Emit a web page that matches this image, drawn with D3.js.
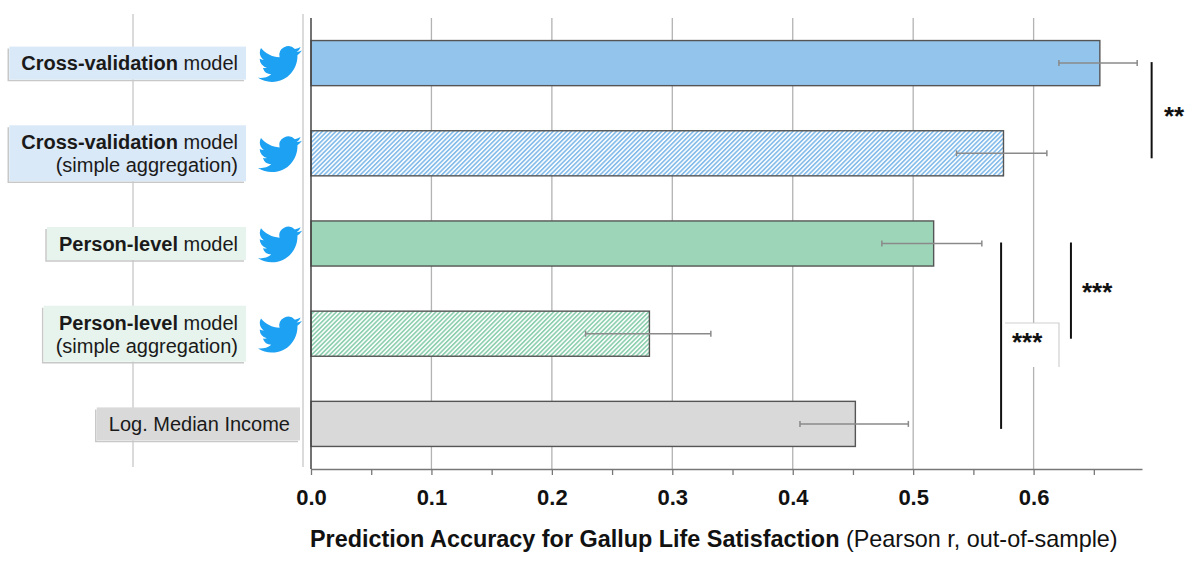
<!DOCTYPE html>
<html>
<head>
<meta charset="utf-8">
<script src="https://cdn.jsdelivr.net/npm/d3@7"></script>
<style>
  html, body { margin: 0; padding: 0; background: #fff; }
  svg { display: block; font-family: "Liberation Sans", Arial, Helvetica, sans-serif; }
</style>
</head>
<body>
<svg id="chart" width="1200" height="567"></svg>
<script>
// valores
const labelBold = ["Cross-validation", "Cross-validation", "Person-level", "Person-level", ""];
const labelRest = [" model", " model", " model", " model", "Log. Median Income"];
const labelSecond = ["", "(simple aggregation)", "", "(simple aggregation)", ""];
const groups = ["blue", "blue", "green", "green", "gray"];
const hatched = [false, true, false, true, false];
const twitter = [true, true, true, true, false];

const values = [0.655, 0.575, 0.517, 0.281, 0.452];
const errLow = [0.621, 0.536, 0.474, 0.228, 0.406];
const errHigh = [0.686, 0.611, 0.557, 0.332, 0.496];

const tickValues = [0, 0.05, 0.1, 0.15, 0.2, 0.25, 0.3, 0.35, 0.4, 0.45, 0.5, 0.55, 0.6, 0.65];
const gridValues = [0.1, 0.2, 0.3, 0.4, 0.5, 0.6];

// comparações de significância (índices das barras)
const sigFrom = [0, 2, 2];
const sigTo = [1, 3, 4];
const sigLabels = ["**", "***", "***"];
const sigX = [0.698, 0.631, 0.573];

const fills = { blue: "#93c4ec", green: "#9dd5b8", gray: "#d9d9d9" };
const hatchColors = { blue: "#86bdea", green: "#8ed0b0" };
const boxFills = { blue: "#dae9f7", green: "#e7f4ed", gray: "#d9d9d9" };

const svg = d3.select("#chart");
const plotTop = 18, plotBottom = 469;

const x = d3.scaleLinear().domain([0, 0.69]).range([311, 1142]);
const y = d3.scaleBand().domain(d3.range(values.length)).range([plotTop, plotBottom])
  .paddingInner(0.5).paddingOuter(0.25);
const bw = y.bandwidth();

// padrões de hachura
const defs = svg.append("defs");
const hs = 3.2;
Object.keys(hatchColors).forEach((k) => {
  const p = defs.append("pattern")
    .attr("id", "hatch-" + k)
    .attr("patternUnits", "userSpaceOnUse")
    .attr("width", hs).attr("height", hs)
    .attr("patternTransform", "rotate(45)");
  p.append("rect").attr("width", hs).attr("height", hs).attr("fill", "#fff");
  p.append("rect").attr("x", 0).attr("y", 0).attr("width", 1.7).attr("height", hs)
    .attr("fill", hatchColors[k]);
});

// linhas cinzas de fundo (conectores)
[133, 303].forEach((lx) => {
  svg.append("line").attr("x1", lx).attr("x2", lx).attr("y1", 14).attr("y2", 467)
    .attr("stroke", "#cfcfcf").attr("stroke-width", 1.5);
});

// grade
svg.append("g").selectAll("line").data(gridValues).enter().append("line")
  .attr("x1", (d) => x(d)).attr("x2", (d) => x(d))
  .attr("y1", plotTop).attr("y2", plotBottom)
  .attr("stroke", "#b3b3b3").attr("stroke-width", 1.3);

// caixa branca atrás do "***"
svg.append("rect").attr("x", 1005).attr("y", 323).attr("width", 54).attr("height", 44)
  .attr("fill", "#fff");
svg.append("path").attr("d", "M1005,323H1059V367")
  .attr("fill", "none").attr("stroke", "#d0d0d0").attr("stroke-width", 1.2);

// barras
svg.append("g").selectAll("rect").data(values).enter().append("rect")
  .attr("x", x(0))
  .attr("y", (d, i) => y(i))
  .attr("width", (d) => x(d) - x(0))
  .attr("height", bw)
  .attr("fill", (d, i) => hatched[i] ? `url(#hatch-${groups[i]})` : fills[groups[i]])
  .attr("stroke", "#555")
  .attr("stroke-width", 1.4);

// barras de erro
const err = svg.append("g").attr("stroke", "#8a8a8a").attr("stroke-width", 1.5);
values.forEach((v, i) => {
  const cy = y(i) + bw / 2;
  err.append("line").attr("x1", x(errLow[i])).attr("x2", x(errHigh[i])).attr("y1", cy).attr("y2", cy);
  [errLow[i], errHigh[i]].forEach((e) => {
    err.append("line").attr("x1", x(e)).attr("x2", x(e)).attr("y1", cy - 3).attr("y2", cy + 3);
  });
});

// eixo x
const axis = d3.axisBottom(x)
  .tickValues(tickValues)
  .tickSize(6)
  .tickSizeOuter(0)
  .tickPadding(14)
  .tickFormat((d) => (Math.round(d * 100) % 10 === 0 ? d3.format(".1f")(d) : ""));

const gx = svg.append("g").attr("transform", `translate(0,${plotBottom})`).call(axis);
gx.select(".domain").attr("stroke", "#777").attr("stroke-width", 1.3);
gx.selectAll(".tick line").attr("stroke", "#777").attr("stroke-width", 1.3);
gx.selectAll(".tick text").attr("font-size", 22).attr("font-weight", "bold")
  .attr("fill", "#111").attr("font-family", "'Liberation Sans', Arial, sans-serif");

// eixo vertical à esquerda
svg.append("line").attr("x1", x(0)).attr("x2", x(0)).attr("y1", plotTop).attr("y2", plotBottom)
  .attr("stroke", "#444").attr("stroke-width", 1.5);

// título do eixo
const title = svg.append("text").attr("x", 310).attr("y", 547)
  .attr("font-size", 23.4).attr("fill", "#111");
title.append("tspan").attr("font-weight", "bold").text("Prediction Accuracy for Gallup Life Satisfaction");
title.append("tspan").text(" (Pearson r, out-of-sample)");

// rótulos das categorias
values.forEach((v, i) => {
  const cy = y(i) + bw / 2;
  const two = labelSecond[i] !== "";
  const rightX = twitter[i] ? 238 : 290;
  const g = svg.append("g");
  const box = g.append("rect");
  const shadow = g.insert("path", "rect");

  const t = g.append("text").attr("text-anchor", "end").attr("font-size", 20).attr("fill", "#1a1a1a");
  const l1 = t.append("tspan").attr("x", rightX).attr("y", two ? cy - 4 : cy + 7);
  if (labelBold[i]) l1.append("tspan").attr("font-weight", "bold").text(labelBold[i]);
  l1.append("tspan").text(labelRest[i]);
  if (two) {
    t.append("tspan").attr("x", rightX).attr("y", cy + 19).text(labelSecond[i]);
  }

  const bb = t.node().getBBox();
  const bx = bb.x - 12;
  const bRight = rightX + (twitter[i] ? 8 : 10);
  const bh = two ? 56 : 33;
  const by = cy - bh / 2;
  box.attr("x", bx).attr("y", by).attr("width", bRight - bx).attr("height", bh)
    .attr("fill", boxFills[groups[i]]);
  shadow.attr("d", `M${bx - 1},${by + 2}V${by + bh + 1}H${bRight - 2}`)
    .attr("fill", "none").attr("stroke", "#c8c8c8").attr("stroke-width", 1.5);
});

// passarinhos do twitter
const birdPath = "M23.953 4.57a10 10 0 01-2.825.775 4.958 4.958 0 002.163-2.723c-.951.555-2.005.959-3.127 1.184a4.92 4.92 0 00-8.384 4.482C7.69 8.095 4.067 6.13 1.64 3.162a4.822 4.822 0 00-.665 2.475c0 1.71.87 3.213 2.188 4.096a4.904 4.904 0 01-2.228-.616v.06a4.923 4.923 0 003.946 4.827 4.996 4.996 0 01-2.212.085 4.936 4.936 0 004.604 3.417 9.867 9.867 0 01-6.102 2.105c-.39 0-.779-.023-1.17-.067a13.995 13.995 0 007.557 2.209c9.053 0 13.998-7.496 13.998-13.985 0-.21 0-.42-.015-.63A9.935 9.935 0 0024 4.59z";
values.forEach((v, i) => {
  if (!twitter[i]) return;
  const cy = y(i) + bw / 2;
  svg.append("path").attr("d", birdPath)
    .attr("fill", "#1da1f2")
    .attr("transform", `translate(258,${cy - 21}) scale(1.83)`);
});

// linhas e asteriscos de significância
sigLabels.forEach((lab, k) => {
  const sx = x(sigX[k]);
  const y1 = y(sigFrom[k]) + bw / 2 - 1;
  const y2 = y(sigTo[k]) + bw / 2 + 5;
  svg.append("line").attr("x1", sx).attr("x2", sx).attr("y1", y1).attr("y2", y2)
    .attr("stroke", "#111").attr("stroke-width", 2);
});
const starPos = [[1164, 125], [1082, 301], [1012, 351]];
sigLabels.forEach((lab, k) => {
  svg.append("text").attr("x", starPos[k][0]).attr("y", starPos[k][1])
    .attr("font-size", 26).attr("font-weight", "bold").attr("fill", "#111")
    .text(lab);
});
</script>
</body>
</html>
